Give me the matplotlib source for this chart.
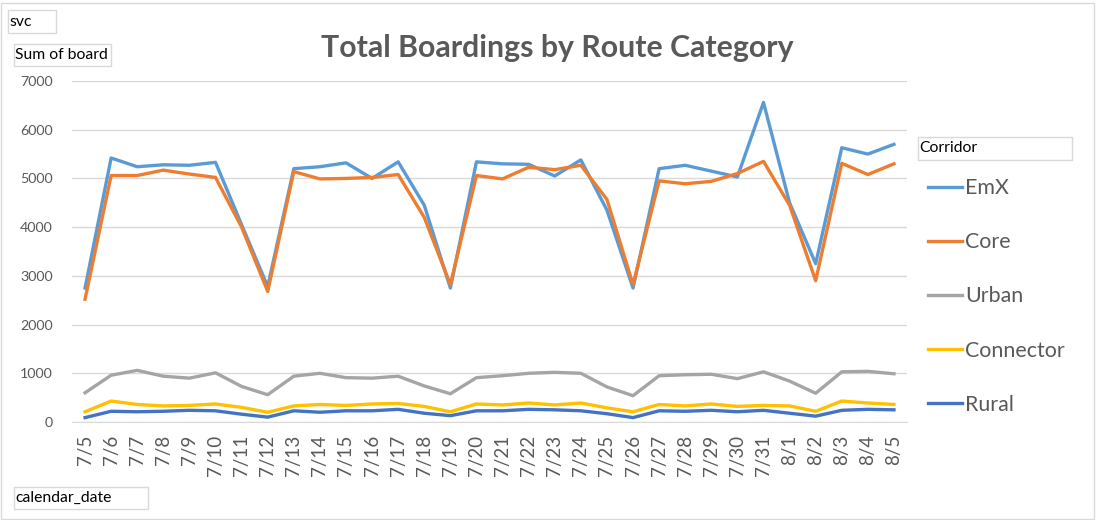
import numpy as np
import matplotlib
matplotlib.use("Agg")
import matplotlib.pyplot as plt
from matplotlib.patches import Rectangle

plt.rcParams['font.family'] = ['Lato', 'DejaVu Sans']

dates = ["7/5", "7/6", "7/7", "7/8", "7/9", "7/10", "7/11", "7/12", "7/13", "7/14",
         "7/15", "7/16", "7/17", "7/18", "7/19", "7/20", "7/21", "7/22", "7/23", "7/24",
         "7/25", "7/26", "7/27", "7/28", "7/29", "7/30", "7/31", "8/1", "8/2", "8/3",
         "8/4", "8/5"]
emx = [2750, 5420, 5240, 5280, 5270, 5330, 4050, 2780, 5200, 5240, 5320, 5000, 5340, 4450,
       2750, 5340, 5300, 5290, 5050, 5380, 4350, 2750, 5200, 5270, 5150, 5030, 6560, 4500,
       3250, 5630, 5500, 5700]
core = [2520, 5060, 5060, 5170, 5090, 5020, 4000, 2680, 5140, 4990, 5000, 5020, 5080, 4200,
        2820, 5060, 4990, 5230, 5180, 5270, 4570, 2820, 4950, 4890, 4940, 5100, 5350, 4450,
        2900, 5310, 5080, 5300]
urban = [600, 960, 1060, 940, 900, 1010, 730, 560, 940, 1000, 910, 900, 940, 740, 580, 910,
         950, 1000, 1020, 1000, 720, 540, 950, 970, 980, 890, 1030, 840, 590, 1030, 1040, 990]
connector = [210, 430, 360, 330, 340, 370, 300, 200, 330, 360, 340, 370, 380, 320, 210, 370,
             350, 390, 350, 390, 290, 210, 360, 330, 370, 320, 340, 330, 220, 430, 390, 360]
rural = [90, 220, 210, 220, 240, 230, 160, 100, 230, 200, 230, 230, 260, 180, 130, 230, 230,
         260, 250, 230, 170, 90, 230, 220, 240, 210, 240, 180, 120, 240, 260, 250]

series = [("EmX", emx, "#5B9BD5"), ("Core", core, "#ED7D31"), ("Urban", urban, "#A5A5A5"),
          ("Connector", connector, "#FFC000"), ("Rural", rural, "#4472C4")]

W, H = 1097, 520
fig = plt.figure(figsize=(W / 100, H / 100), dpi=100)
fig.patch.set_facecolor("white")
ax = fig.add_axes([72 / W, 1 - 422 / H, 835 / W, 341 / H])

x = np.arange(len(dates))
for name, vals, col in series:
    ax.plot(x, vals, color=col, lw=2.4, label=name, solid_joinstyle="round")

ax.set_xlim(-0.5, len(dates) - 0.5)
ax.set_ylim(0, 7000)
ax.set_yticks(range(0, 7001, 1000))
ax.set_xticks(x)
ax.set_xticklabels(dates, rotation=90)
ax.tick_params(axis="both", length=0, colors="#595959")
ax.tick_params(axis="x", pad=9, labelsize=13.5)
ax.tick_params(axis="y", pad=14, labelsize=10.3)
ax.grid(axis="y", color="#D9D9D9", lw=1)
ax.set_axisbelow(True)
for s in ["top", "right", "left"]:
    ax.spines[s].set_visible(False)
ax.spines["bottom"].set_color("#D9D9D9")

fig.text(557 / W, 1 - 48 / H, "Total Boardings by Route Category", ha="center", va="center",
         fontsize=21.8, fontweight="bold", color="#595959")

leg = ax.legend(loc="upper left", bbox_to_anchor=(928 / W, 1 - 178 / H),
                bbox_transform=fig.transFigure, frameon=False, fontsize=15.4,
                labelspacing=1.6, handlelength=1.6, handletextpad=0.14,
                borderpad=0, borderaxespad=0)
for t in leg.get_texts():
    t.set_color("#595959")


def button(x0, y0, x1, y1, text, size=11.3):
    fig.add_artist(Rectangle((x0 / W, 1 - y1 / H), (x1 - x0) / W, (y1 - y0) / H,
                             transform=fig.transFigure, fc="white", ec="#D9D9D9", lw=1))
    fig.text((x0 + 1) / W, 1 - (y0 + y1) / 2 / H, text, ha="left", va="center",
             fontsize=size, color="black")


button(8, 10, 56, 33, "svc")
button(14, 44, 111, 66, "Sum of board")
button(14, 487, 148, 509, "calendar_date")
button(918, 137, 1072, 160, "Corridor")

fig.add_artist(Rectangle((0.5 / W, 1.5 / H), 1093 / W, 516 / H, transform=fig.transFigure,
                         fill=False, ec="#D9D9D9", lw=1))

fig.savefig("out.png", dpi=100)
